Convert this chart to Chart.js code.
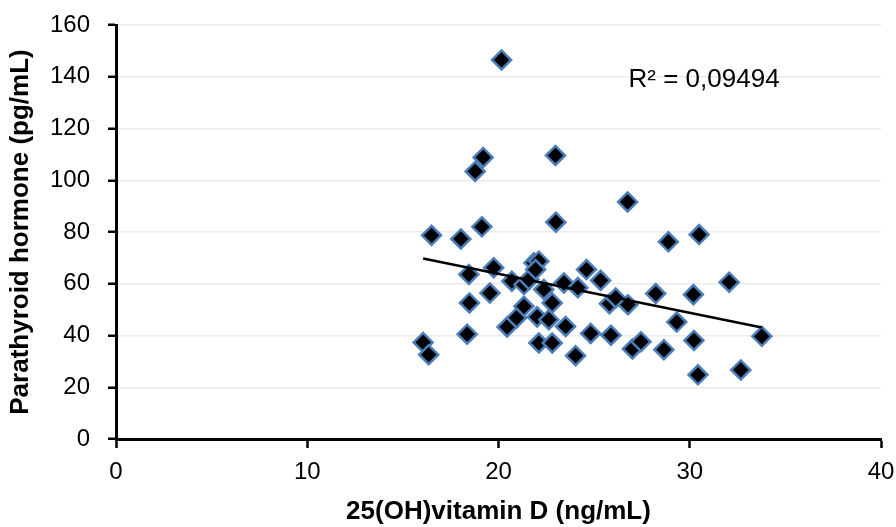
<!DOCTYPE html>
<html>
<head>
<meta charset="utf-8">
<script src="https://cdn.jsdelivr.net/npm/chart.js@4"></script>
<style>
    html, body { margin: 0; padding: 0; background: #fff; }
    #wrap { width: 896px; height: 527px; }
</style>
</head>
<body>
<div id="wrap"><canvas id="chart" width="896" height="527"></canvas></div>
<script>
// Data
const vitaminD = [
    16.06, 16.35, 16.5, 18.03, 18.36, 18.45, 18.48, 18.78, 19.13, 19.2,
    19.55, 19.75, 20.16, 20.45, 20.7, 20.94, 21.33, 21.33, 21.59, 21.85,
    22.11, 21.94, 22.02, 22.11, 22.37, 22.63, 22.81, 22.81, 22.98, 23.0,
    23.42, 23.51, 24.03, 24.15, 24.6, 24.82, 25.34, 25.8, 25.88, 26.13,
    26.75, 26.77, 27.0, 27.45, 28.22, 28.65, 28.88, 29.32, 30.19, 30.22,
    30.43, 30.49, 32.06, 32.67, 33.77
];
const pth = [
    37.3, 32.6, 78.7, 77.3, 40.5, 63.6, 52.6, 103.4, 82.0, 108.8,
    56.4, 66.2, 146.5, 43.3, 61.0, 46.8, 59.7, 51.3, 61.6, 68.1,
    68.7, 65.5, 47.2, 37.1, 57.8, 46.1, 52.6, 37.1, 109.6, 83.8,
    60.3, 43.5, 32.2, 58.5, 65.5, 40.8, 61.3, 52.3, 40.1, 54.5,
    91.6, 51.9, 34.8, 37.6, 56.2, 34.5, 76.2, 45.2, 55.8, 38.1,
    24.8, 79.0, 60.6, 26.7, 39.7
];
const xTicks = [0, 10, 20, 30, 40];
const yTicks = [0, 20, 40, 60, 80, 100, 120, 140, 160];
const rSquaredLabel = 'R² = 0,09494';

const FONT = "'Liberation Sans', Arial, sans-serif";

// Least squares trend line from the data
function linearFit(xs, ys) {
    const n = xs.length;
    const mx = xs.reduce((a, b) => a + b, 0) / n;
    const my = ys.reduce((a, b) => a + b, 0) / n;
    let sxy = 0, sxx = 0;
    for (let i = 0; i < n; i++) {
        sxy += (xs[i] - mx) * (ys[i] - my);
        sxx += (xs[i] - mx) * (xs[i] - mx);
    }
    const slope = sxy / sxx;
    return { slope, intercept: my - slope * mx };
}

const fit = linearFit(vitaminD, pth);
const xMin = Math.min(...vitaminD);
const xMax = Math.max(...vitaminD);
const trend = [xMin, xMax].map(x => ({ x, y: fit.intercept + fit.slope * x }));

// Draws the R² text like the spreadsheet label
const rSquaredPlugin = {
    id: 'rSquared',
    afterDatasetsDraw(chart) {
        const { ctx, scales } = chart;
        ctx.save();
        ctx.font = `26px ${FONT}`;
        ctx.fillStyle = '#000';
        ctx.textAlign = 'left';
        ctx.textBaseline = 'middle';
        ctx.fillText(rSquaredLabel, scales.x.getPixelForValue(26.8), scales.y.getPixelForValue(139));
        ctx.restore();
    }
};

let chart;
try {
    const ctx = document.getElementById('chart');
    chart = new Chart(ctx.getContext('2d'), {
        type: 'scatter',
        data: {
            datasets: [
                {
                    label: 'PTH',
                    data: vitaminD.map((x, i) => ({ x, y: pth[i] })),
                    pointStyle: 'rectRot',
                    pointRadius: 9.5,
                    pointBackgroundColor: '#000',
                    pointBorderColor: '#4a7ebb',
                    pointBorderWidth: 2.5,
                    order: 1
                },
                {
                    type: 'line',
                    label: 'Trend',
                    data: trend,
                    borderColor: '#000',
                    borderWidth: 2.5,
                    pointRadius: 0,
                    fill: false,
                    order: 0
                }
            ]
        },
        options: {
            responsive: false,
            animation: false,
            layout: { padding: { left: 0, right: 15, top: 25, bottom: 0 } },
            scales: {
                x: {
                    type: 'linear',
                    min: 0,
                    max: 40,
                    afterBuildTicks: s => { s.ticks = xTicks.map(v => ({ value: v })); },
                    afterFit: s => {
                        s.height = 88;
                        s.paddingLeft = 0;
                        s.paddingRight = 0;
                    },
                    border: { color: '#000', width: 3 },
                    grid: { drawOnChartArea: false, drawTicks: true, tickLength: 9, tickColor: '#000', tickWidth: 2.5 },
                    ticks: { color: '#000', padding: 10, font: { family: FONT, size: 24 } },
                    title: {
                        display: true,
                        text: '25(OH)vitamin D (ng/mL)',
                        color: '#000',
                        padding: 0,
                        font: { family: FONT, size: 26, weight: 'bold' }
                    }
                },
                y: {
                    type: 'linear',
                    min: 0,
                    max: 160,
                    afterBuildTicks: s => { s.ticks = yTicks.map(v => ({ value: v })); },
                    afterFit: s => {
                        s.width = 116;
                        s.paddingTop = 0;
                        s.paddingBottom = 0;
                    },
                    border: { color: '#000', width: 3 },
                    grid: { color: '#ebebeb', lineWidth: 1.5, tickLength: 8, tickColor: '#000', tickWidth: 2.5 },
                    ticks: { color: '#000', padding: 18, font: { family: FONT, size: 24 } },
                    title: {
                        display: true,
                        text: 'Parathyroid hormone (pg/mL)',
                        color: '#000',
                        padding: { top: 5, bottom: 0 },
                        font: { family: FONT, size: 26, weight: 'bold' }
                    }
                }
            },
            plugins: {
                legend: { display: false },
                tooltip: { enabled: false }
            }
        },
        plugins: [rSquaredPlugin]
    });
} catch (error) {
    console.error('Error initializing chart:', error);
}
</script>
</body>
</html>
